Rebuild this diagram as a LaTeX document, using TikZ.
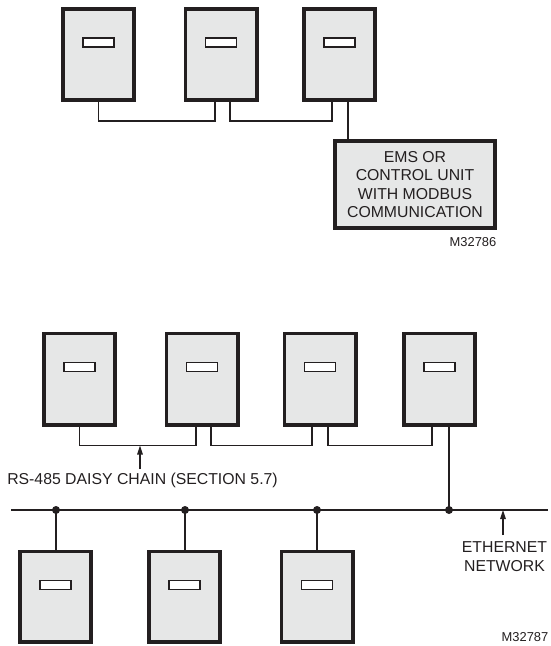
\documentclass[tikz,border=0pt]{standalone}
\usepackage{fontspec}
\setmainfont{Liberation Sans}
\usetikzlibrary{arrows.meta}
\definecolor{ink}{HTML}{231F20}
\definecolor{panel}{HTML}{E6E7E7}
\begin{document}
\begin{tikzpicture}[x=1pt,y=-1pt,
  unit/.style={draw=ink,fill=panel,line width=3.6pt,minimum width=71.4pt,minimum height=91.4pt,inner sep=0pt},
  unitb/.style={unit,minimum height=90.4pt},
  slot/.style={draw=ink,fill=white,line width=1.8pt,minimum width=31pt,minimum height=9pt,inner sep=0pt},
  wire/.style={draw=ink,line width=1.4pt},
  bus/.style={draw=ink,line width=1.8pt},
  dot/.style={circle,fill=ink,inner sep=0pt,minimum size=8pt},
  lbl/.style={font=\fontsize{15.8}{18.4}\selectfont,text=ink,inner sep=0pt,align=center},
  code/.style={font=\fontsize{12.9}{14}\selectfont,text=ink,inner sep=0pt,anchor=east},
  tip/.style={-{Triangle[length=9pt,width=5.5pt]},draw=ink,line width=1.4pt}]
\useasboundingbox (0,0) rectangle (550,646);
\clip (0,0) rectangle (550,646);
% ---------- top diagram ----------
\node[unit] (a1) at (98.5,54.5) {};
\node[unit] (a2) at (221,54.5) {};
\node[unit] (a3) at (339.5,54.5) {};
\foreach \n in {a1,a2,a3} \node[slot] (s\n) at ([yshift=-35.5pt]\n.north) {};
\node[unit,minimum width=160.4pt,minimum height=87.4pt,lbl] (ems) at (415,184.5) {EMS OR\\CONTROL UNIT\\WITH MODBUS\\COMMUNICATION};
\node[code] (m1) at (496.5,242) {M32786};
\draw[wire] (a1.south) -- ++(0,19) -| ([xshift=-6pt]a2.south);
\draw[wire] ([xshift=9pt]a2.south) -- ++(0,19) -| ([xshift=-7.5pt]a3.south);
\draw[wire] ([xshift=8.5pt]a3.south) coordinate (e0) -- (e0 |- ems.north);
% ---------- bottom diagram ----------
\node[unit] (b1) at (79.5,379) {};
\node[unit] (b2) at (202,379) {};
\node[unit] (b3) at (320,379) {};
\node[unit] (b4) at (439.5,379) {};
\node[unitb] (c1) at (55.5,596.5) {};
\node[unitb] (c2) at (184.5,596.5) {};
\node[unitb] (c3) at (317,596.5) {};
\foreach \n in {b1,b2,b3,b4,c1,c2,c3} \node[slot] (s\n) at ([yshift=-35.5pt]\n.north) {};
\draw[wire] (b1.south) -- ++(0,19) coordinate (r1) -| ([xshift=-6pt]b2.south);
\draw[wire] ([xshift=9pt]b2.south) -- ++(0,19) -| ([xshift=-8pt]b3.south);
\draw[wire] ([xshift=8pt]b3.south) -- ++(0,19) -| ([xshift=-7.5pt]b4.south);
\coordinate (busL) at (11,510);
\coordinate (busR) at (548,510);
\draw[bus] (busL) -- (busR);
\node[dot] (d1) at (56,510) {};
\node[dot] (d2) at (185,510) {};
\node[dot] (d3) at (317,510) {};
\node[dot] (d4) at (449,510) {};
\draw[bus] (d4.center) -- (d4.center |- b4.south);
\draw[bus] (d1.center) -- (d1.center |- c1.north);
\draw[bus] (d2.center) -- (d2.center |- c2.north);
\draw[bus] (d3.center) -- (d3.center |- c3.north);
\node[lbl] (rs) at (142.5,480) {RS-485 DAISY CHAIN (SECTION 5.7)};
\draw[tip] (140,469) coordinate (rsb) -- (rsb |- r1);
\node[lbl,anchor=north,font=\fontsize{15.8}{19}\selectfont] (eth) at (504.5,541) {ETHERNET\\NETWORK};
\draw[tip] (503,535) coordinate (etb) -- (etb |- busR);
\node[code] (m2) at (548.5,637) {M32787};
\end{tikzpicture}
\end{document}
